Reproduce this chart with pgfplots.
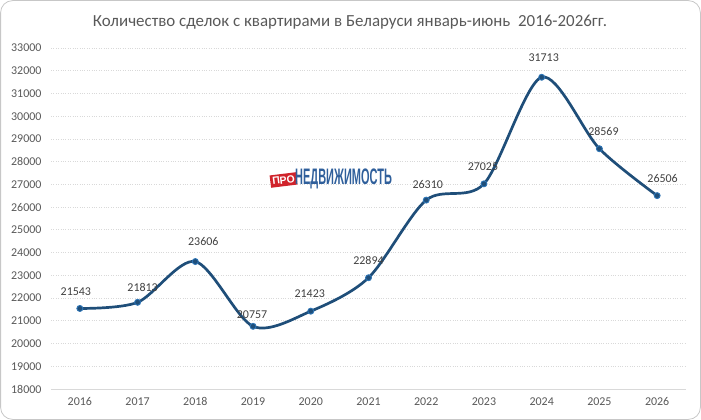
\documentclass[border=0pt]{standalone}
\usepackage{pgfplots}
\pgfplotsset{compat=1.18}
\usepackage{pgfplotstable}
\usepackage{fontspec}
\setmainfont{Carlito}
\newfontfamily\logofont{Liberation Sans}
\definecolor{lineblue}{HTML}{1F4E79}
\definecolor{markblue}{HTML}{2E75B6}
\definecolor{txtgray}{HTML}{595959}
\definecolor{lblgray}{HTML}{404040}
\definecolor{gridgray}{HTML}{D9D9D9}
\definecolor{logoblue}{HTML}{2F5F9B}
\definecolor{logored}{HTML}{D0232B}
\pgfplotstableread{
x y dx dy lab
0 21543 -4 17 21543
1 21813 5 15 21813
2 23606 8 20 23606
3 20757 -1 12 20757
4 21423 -1 18 21423
5 22894 0 17 22894
6 26310 1.5 16 26310
7 27025 -1 17 27025
8 31713 2 20 31713
9 28569 4 17 28569
10 26506 5.5 17 26506
}\datatable
\begin{document}
\begin{tikzpicture}
\useasboundingbox (0,0) rectangle (701bp,420bp);
\draw[gridgray!80!gray, line width=0.8bp, rounded corners=12bp] (0.6bp,0.6bp) rectangle (700.4bp,419.4bp);
\node[text=txtgray, font=\fontsize{17}{20}\selectfont] at (350bp,398bp) {Количество сделок с квартирами в Беларуси январь-июнь\ \ 2016-2026гг.};
\begin{axis}[
  at={(51bp,31bp)}, anchor=south west,
  scale only axis, width=635bp, height=341bp,
  xmin=-0.5, xmax=10.5, ymin=18000, ymax=33000,
  xtick={0,...,10},
  xticklabels={2016,2017,2018,2019,2020,2021,2022,2023,2024,2025,2026},
  ytick={18000,19000,...,33000},
  scaled y ticks=false,
  /pgf/number format/fixed,
  /pgf/number format/1000 sep={},
  /pgf/number format/assume math mode=true,
  ticklabel style={font=\fontsize{12}{14}\selectfont, text=txtgray},
  major tick length=0pt,
  axis x line*=bottom, axis y line*=left,
  x axis line style={draw=gridgray, line width=0.8bp, -},
  y axis line style={draw=none},
  ymajorgrids, grid style={gridgray, dotted, line width=0.8bp},
  xtick style={draw=none}, ytick style={draw=none},
  yticklabel style={xshift=-6bp},
  xticklabel style={yshift=-5bp},
  clip=false,
]
\addplot[lineblue, line width=2.7bp, smooth, tension=0.5,
  mark=*, mark size=3bp, mark options={fill=lineblue, draw=markblue, line width=0.9bp},
  visualization depends on={\thisrow{dx}\as\dx},
  visualization depends on={\thisrow{dy}\as\dy},
  point meta=explicit symbolic,
  nodes near coords,
  nodes near coords style={anchor=center, xshift=\dx bp, yshift=\dy bp, text=lblgray, font=\fontsize{12}{14}\selectfont},
] table[x=x, y=y, meta=lab] {\datatable};
\end{axis}
\node[fill=logored, text=white, font=\logofont\bfseries\fontsize{10.5}{10.5}\selectfont, inner xsep=2bp, inner ysep=2.5bp, rotate=7] at (283.5bp,240bp) {ПРО};
\node[anchor=west, text=logoblue, inner sep=0pt] at (295bp,241bp) {\scalebox{0.49}[1]{\logofont\bfseries\fontsize{22.5}{22.5}\selectfont НЕДВИЖИМОСТЬ}};
\end{tikzpicture}
\end{document}
